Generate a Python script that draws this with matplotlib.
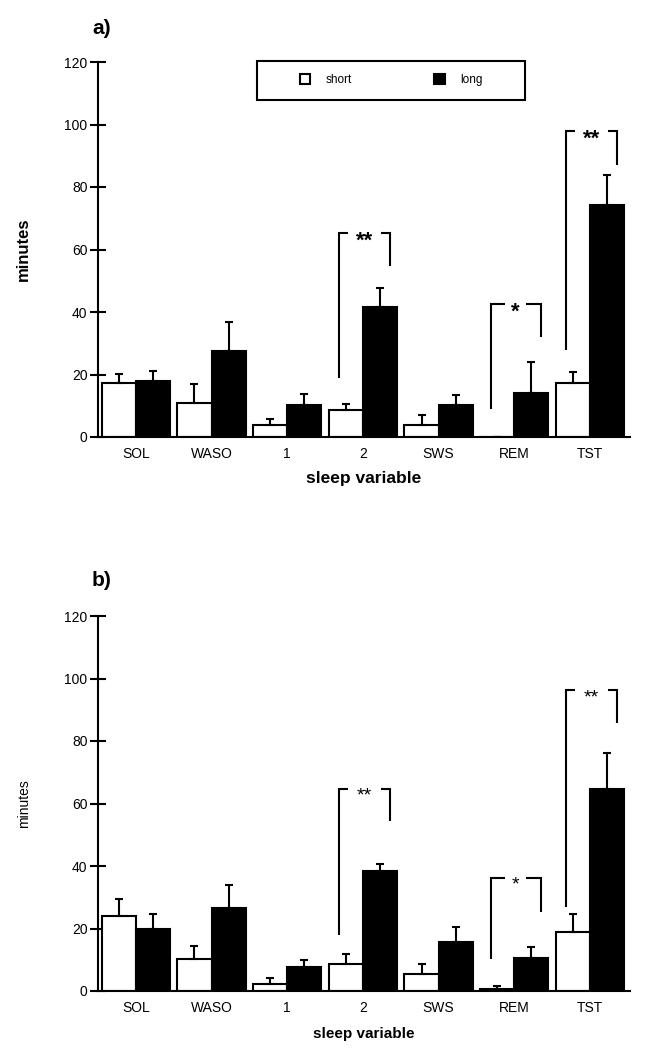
import numpy as np
import matplotlib
matplotlib.use('Agg')
import matplotlib.pyplot as plt
from matplotlib.patches import Patch, Rectangle

plt.rcParams['font.family'] = ['Liberation Sans', 'DejaVu Sans']

# sleep variables on the x axis
categories = ['SOL', 'WASO', '1', '2', 'SWS', 'REM', 'TST']

# panel a) means and upper error (minutes)
a_short = [17.2, 10.8, 3.7, 8.8, 3.7, 0.0, 17.2]
a_short_err = [3.0, 6.3, 2.0, 1.9, 3.3, 0.0, 3.6]
a_long = [17.9, 27.5, 10.3, 41.5, 10.3, 14.1, 74.2]
a_long_err = [3.1, 9.4, 3.6, 6.2, 3.1, 10.0, 9.5]

# panel b) means and upper error (minutes)
b_short = [24.0, 10.1, 2.3, 8.8, 5.3, 0.5, 19.0]
b_short_err = [5.6, 4.4, 2.0, 3.2, 3.2, 1.1, 5.8]
b_long = [19.7, 26.6, 7.6, 38.3, 15.6, 10.6, 64.8]
b_long_err = [4.9, 7.4, 2.3, 2.4, 4.8, 3.6, 11.4]

# significance brackets: (category index, left foot, top, right foot, label)
a_brackets = [(3, 18.8, 65.2, 54.6, '**'),
              (5, 9.1, 42.7, 32.0, '*'),
              (6, 27.7, 97.9, 86.9, '**')]
b_brackets = [(3, 18.0, 64.8, 54.3, '**'),
              (5, 10.1, 36.3, 25.2, '*'),
              (6, 27.0, 96.3, 85.7, '**')]

yticks = [0, 20, 40, 60, 80, 100, 120]

W = 0.45
LW = 1.5


def draw_bracket(ax, i, y_left, y_top, y_right, label, size, weight):
    gap = 0.22 if label == '**' else 0.14
    xl, xr = i - 0.31, i + 0.36
    c = i + 0.02
    kw = dict(color='black', lw=LW, solid_joinstyle='miter', solid_capstyle='butt')
    ax.plot([xl, xl, c - gap], [y_left, y_top, y_top], **kw)
    ax.plot([c + gap, xr, xr], [y_top, y_top, y_right], **kw)
    ax.annotate(label, (c, y_top), xytext=(0, -0.62 * size),
                textcoords='offset points', ha='center', va='baseline',
                fontsize=size, fontweight=weight)


def plot_panel(ax, short, short_err, long_, long_err, brackets,
               star_size, star_weight):
    x = np.arange(len(categories))
    zeros = np.zeros(len(categories))

    ax.bar(x - W / 2, short, W, color='white', edgecolor='black', linewidth=LW, zorder=2)
    ax.bar(x + W / 2, long_, W, color='black', edgecolor='black', linewidth=LW, zorder=2)
    ax.errorbar(x - W / 2, short, yerr=[zeros, short_err], fmt='none',
                ecolor='black', elinewidth=LW, capsize=3, capthick=LW, zorder=3)
    ax.errorbar(x + W / 2, long_, yerr=[zeros, long_err], fmt='none',
                ecolor='black', elinewidth=LW, capsize=3, capthick=LW, zorder=3)

    for br in brackets:
        draw_bracket(ax, *br, size=star_size, weight=star_weight)

    ax.set_xlim(-0.5, 6.53)
    ax.set_ylim(0, 120)
    ax.set_yticks(yticks)
    ax.set_xticks(x)
    ax.set_xticklabels(categories)
    ax.tick_params(axis='x', length=0, pad=7, labelsize=10)
    ax.tick_params(axis='y', direction='inout', length=12, width=LW,
                   pad=1.5, labelsize=10)
    for side in ['top', 'right']:
        ax.spines[side].set_visible(False)
    for side in ['left', 'bottom']:
        ax.spines[side].set_linewidth(LW)
    ax.spines['left'].set_zorder(4)


fig = plt.figure(figsize=(6.53, 10.5), dpi=100)
ax_a = fig.add_axes([98 / 653, 1 - 437 / 1050, 532 / 653, 375 / 1050])
ax_b = fig.add_axes([98 / 653, 1 - 991 / 1050, 532 / 653, 375 / 1050])

plot_panel(ax_a, a_short, a_short_err, a_long, a_long_err, a_brackets, 16, 'bold')
plot_panel(ax_b, b_short, b_short_err, b_long, b_long_err, b_brackets, 14, 'normal')

ax_a.set_xlabel('sleep variable', fontsize=12.5, fontweight='bold')
ax_a.xaxis.set_label_coords(0.5, -0.09)
ax_a.set_ylabel('minutes', fontsize=12, fontweight='bold')
ax_a.yaxis.set_label_coords(-0.126, 0.5)

ax_b.set_xlabel('sleep variable', fontsize=11, fontweight='bold',
                family=['Liberation Sans Narrow', 'Liberation Sans'])
ax_b.xaxis.set_label_coords(0.5, -0.095)
ax_b.set_ylabel('minutes', fontsize=10)
ax_b.yaxis.set_label_coords(-0.126, 0.5)

# legend in panel a)
handles = [Patch(facecolor='white', edgecolor='black', linewidth=LW, label='short'),
           Patch(facecolor='black', edgecolor='black', linewidth=LW, label='long')]
leg = ax_a.legend(handles=handles, ncol=2, loc='center',
                  bbox_to_anchor=(0.551, 0.951), frameon=False,
                  fontsize=8.5, handlelength=0.9, handleheight=0.9,
                  handletextpad=1.3, columnspacing=7.0)
ax_a.add_patch(Rectangle((0.299, 0.899), 0.504, 0.104, transform=ax_a.transAxes,
                         fill=False, edgecolor='black', linewidth=LW, clip_on=False))

fig.text(92 / 653, 1 - 28 / 1050, 'a)', fontsize=15, fontweight='bold', va='center')
fig.text(92 / 653, 1 - 580 / 1050, 'b)', fontsize=15, fontweight='bold', va='center')

fig.savefig('out.png', dpi=100)
